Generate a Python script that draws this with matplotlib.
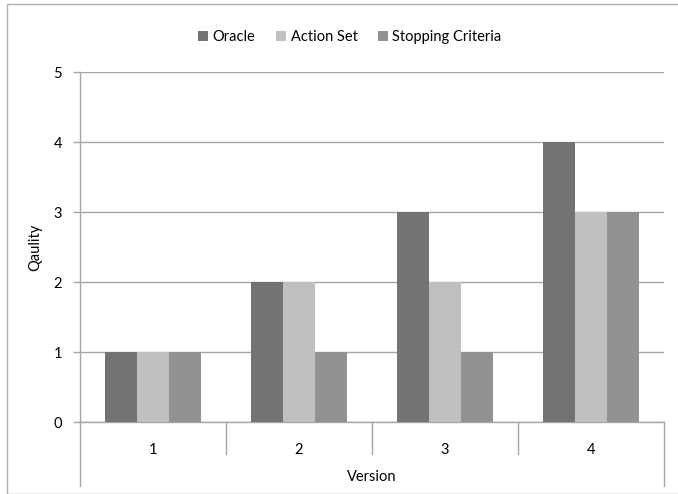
import numpy as np
import matplotlib
matplotlib.use("Agg")
import matplotlib.pyplot as plt
from matplotlib.patches import Rectangle

plt.rcParams['font.family'] = ['Lato', 'DejaVu Sans']

versions = ['1', '2', '3', '4']
oracle = [1, 2, 3, 4]
action_set = [1, 2, 2, 3]
stopping = [1, 1, 1, 3]

series = ['Oracle', 'Action Set', 'Stopping Criteria']
warna = ['#737373', '#c0c0c0', '#929292']
garis = '#a6a6a6'
ukuran = 10.5

W, H = 678, 494
fig = plt.figure(figsize=(W / 100, H / 100), dpi=100)
# kotak luar seperti chart excel
fig.patches.append(Rectangle((7 / W, 0.5 / H), 1.0, (H - 5) / H, transform=fig.transFigure,
                             fill=False, edgecolor='#b0b0b0', linewidth=1))

ax = fig.add_axes([80 / W, (H - 422) / H, (664 - 80) / W, 350 / H])

x = np.arange(1, len(versions) + 1)
lebar = 0.22
for i, (nilai, c) in enumerate(zip([oracle, action_set, stopping], warna)):
    ax.bar(x + (i - 1) * lebar, nilai, width=lebar, color=c, label=series[i], zorder=3)

ax.set_xlim(0.5, len(versions) + 0.5)
ax.set_ylim(0, 5)
ax.set_yticks(range(0, 6))
ax.yaxis.grid(True, color=garis, linewidth=1, zorder=0)
for s in ['top', 'right']:
    ax.spines[s].set_visible(False)
for s in ['left', 'bottom']:
    ax.spines[s].set_color(garis)
    ax.spines[s].set_linewidth(1)

ax.tick_params(axis='y', length=5, color=garis, width=1, labelsize=ukuran, pad=8)
ax.set_xticks(x)
ax.set_xticklabels(versions)
ax.tick_params(axis='x', length=0, labelsize=ukuran, pad=15)

# garis pemisah kategori di bawah sumbu
for b in np.arange(0.5, len(versions) + 1, 1.0):
    ujung = -0.915 if b in (0.5, len(versions) + 0.5) else -0.45
    ax.plot([b, b], [0, ujung], color=garis, linewidth=1, clip_on=False)

ax.text((len(versions) + 1) / 2, -0.79, 'Version', transform=ax.transData,
        ha='center', va='center', fontsize=ukuran)
ax.set_ylabel('Qaulity', fontsize=ukuran, labelpad=8)

fig.legend(loc='center', bbox_to_anchor=(350 / W, (H - 37) / H), ncol=3, frameon=False,
           fontsize=ukuran, handlelength=0.7, handleheight=0.7, handletextpad=0.3,
           columnspacing=1.4)

fig.savefig('out.png', dpi=100)
